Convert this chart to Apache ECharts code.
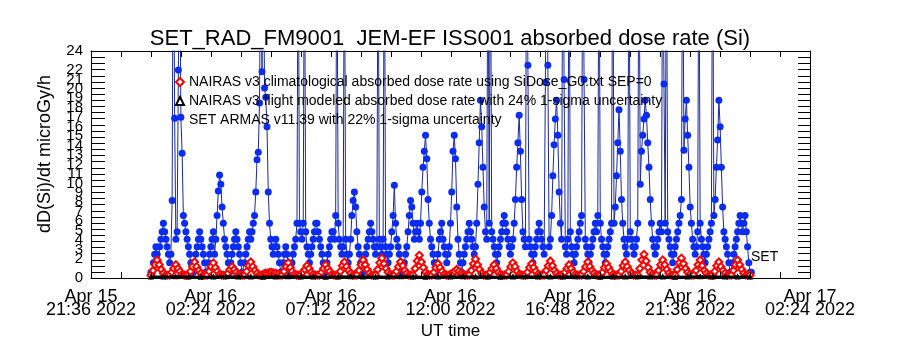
<!DOCTYPE html>
<html>
<head>
<meta charset="utf-8">
<script src="https://cdn.jsdelivr.net/npm/echarts@6/dist/echarts.min.js"></script>
<style>
  html, body { margin: 0; background: #fff; }
  #chart { width: 900px; height: 350px; }
</style>
</head>
<body>
<div id="chart"></div>
<script>
// x axis runs in minutes after Apr 15 2022 21:36 UT
const axisStartUT = Date.UTC(2022, 3, 15, 21, 36)
const axisSpan = 1728
const labelStep = 288
const minorStep = 72
const months = ['Jan', 'Feb', 'Mar', 'Apr', 'May', 'Jun', 'Jul', 'Aug', 'Sep', 'Oct', 'Nov', 'Dec']

const yMax = 24
const yTickLabels = [0, 1, 2, 3, 4, 5, 6, 7, 8, 9, 10, 11, 12, 13, 14, 15, 16, 17, 18, 19, 20, 21, 22, 23, 24]
const yTickMarks = 37 // the frame carries 37 tick steps along the y range

// SET ARMAS, one sample every 3 min from Apr 16 00:00, one row per hour
const armasStart = 144
const armasStep = 3
const armasValues = [
  0.6, 0.6, 1.6, 2.5, 3.3, 2.5, 1.6, 3.3, 4.1, 4.9, 5.8, 4.9, 4.1, 3.3, 2.5, 1.6, 2.5, 8.2, 45, 16.9,
  4.1, 4.9, 22, 40, 17, 13.2, 6.6, 5.8, 4.9, 4.1, 3.3, 2.5, 1.6, 0.6, 0.6, 1.6, 2.5, 3.3, 4.1, 4.9,
  4.1, 3.3, 2.5, 1.6, 0.6, 0.6, 1.6, 2.5, 3.3, 4.1, 4.9, 2.5, 4.1, 6.6, 9.2, 10.9, 9.9, 7.5, 5.8, 4.1,
  3.3, 2.5, 1.6, 0.6, 1.6, 2.5, 3.3, 4.1, 4.9, 4.1, 3.3, 2.5, 1.6, 0.6, 0.6, 1.6, 2.5, 3.3, 4.1, 4.9,
  4.1, 4.9, 5.8, 6.6, 9.1, 12.5, 13.3, 18.5, 40, 21.8, 40, 20.1, 19.1, 16.0, 9.1, 5.8, 4.1, 3.3, 2.5, 3.3,
  4.1, 3.3, 2.5, 1.6, 0.6, 0.6, 1.6, 2.5, 3.3, 2.5, 1.6, 0.6, 0.6, 1.6, 2.5, 3.3, 4.1, 5.8, 40, 5.8,
  4.9, 4.1, 5.8, 40, 4.9, 3.3, 2.5, 1.6, 2.5, 3.3, 4.1, 4.9, 5.8, 5.8, 4.9, 4.1, 3.3, 2.5, 1.6, 0.6,
  0.6, 1.6, 2.5, 3.3, 4.1, 4.9, 4.9, 4.1, 6.6, 40, 5.8, 4.1, 3.3, 2.5, 3.3, 40, 4.1, 2.5, 1.6, 2.5,
  4.1, 6.6, 8.2, 9.1, 7.5, 4.9, 3.3, 2.5, 1.6, 0.6, 0.6, 1.6, 2.5, 3.3, 4.1, 4.9, 5.8, 4.9, 4.1, 3.3,
  2.5, 3.3, 40, 4.1, 3.3, 2.5, 4.1, 40, 3.3, 2.5, 1.6, 2.5, 3.3, 4.9, 6.6, 9.8, 5.8, 4.1, 3.3, 2.5,
  1.6, 0.6, 0.6, 1.6, 2.5, 3.3, 4.9, 6.6, 8.2, 7.5, 5.8, 4.1, 4.9, 5.8, 4.9, 4.1, 5.8, 9.1, 11.7, 13.4,
  15.1, 12.6, 8.3, 5.8, 4.1, 3.3, 2.5, 1.6, 0.6, 1.6, 2.5, 4.1, 4.9, 5.8, 4.1, 3.3, 2.5, 1.6, 2.5, 3.3,
  5.8, 9.1, 13.4, 15.1, 12.6, 7.5, 4.1, 2.5, 1.6, 0.6, 1.6, 2.5, 3.3, 4.1, 4.9, 5.8, 4.9, 4.1, 3.3, 2.5,
  3.3, 5.8, 9.9, 14.3, 18.8, 16.0, 11.7, 7.5, 4.9, 4.1, 40, 5.8, 40, 4.9, 4.1, 3.3, 2.5, 1.6, 2.5, 3.3,
  4.1, 4.9, 5.8, 6.6, 5.8, 4.9, 4.1, 3.3, 2.5, 3.3, 4.1, 5.8, 8.3, 11.7, 14.3, 17.2, 13.4, 8.3, 4.9, 4.1,
  3.3, 40, 22.5, 4.1, 3.3, 2.5, 1.6, 2.5, 3.3, 4.1, 4.9, 5.8, 4.9, 4.1, 3.3, 2.5, 20.7, 40, 22.5, 3.3,
  4.1, 6.6, 10.8, 14.1, 16.8, 18.8, 15.1, 9.1, 5.8, 4.1, 40, 21, 3.3, 2.5, 4.1, 40, 4.9, 3.3, 2.5, 1.6,
  2.5, 3.3, 4.1, 4.9, 5.8, 6.6, 40, 21, 4.1, 3.3, 2.5, 1.6, 2.5, 3.3, 4.1, 4.9, 5.8, 4.9, 6.6, 40,
  5.8, 4.1, 3.3, 2.5, 1.6, 2.5, 3.3, 4.1, 4.9, 5.8, 40, 5.8, 7.5, 10.8, 14.3, 17.8, 13.4, 8.3, 5.8, 4.1,
  3.3, 2.5, 4.1, 40, 4.9, 4.1, 3.3, 2.5, 3.3, 4.1, 5.8, 40, 9.9, 13.4, 15.1, 16.8, 18.8, 17.2, 14.3, 11.7,
  8.3, 5.8, 4.1, 3.3, 2.5, 3.3, 4.1, 4.9, 5.8, 4.9, 40, 20.5, 5.8, 40, 4.9, 4.1, 3.3, 2.5, 1.6, 2.5,
  3.3, 4.1, 4.9, 5.8, 6.6, 8.3, 40, 13.5, 16.8, 18.8, 15.1, 11.7, 7.5, 5.8, 4.1, 3.3, 2.5, 3.3, 4.9, 40,
  5.8, 4.1, 3.3, 2.5, 1.6, 2.5, 3.3, 4.1, 4.9, 5.8, 40, 6.6, 8.3, 11.7, 14.6, 18.8, 16.0, 11.7, 7.5, 4.9,
  4.1, 3.3, 2.5, 1.6, 0.6, 0.6, 1.6, 2.5, 3.3, 4.1, 4.9, 5.8, 6.6, 5.8, 4.9, 5.8, 6.6, 4.9, 3.3, 1.6,
  0.6, 0.6
]

// NAIRAS climatological, one sample every 5 min, one row per 45 min pass
const climStart = 144
const climStep = 5
const climValues = [
  0.3, 0.8, 1.4, 1.9, 1.4, 0.9, 0.5, 0.3, 0.3,
  0.3, 0.6, 1.0, 1.4, 1.0, 0.7, 0.4, 0.3, 0.3,
  0.3, 0.7, 1.2, 1.7, 1.2, 0.8, 0.5, 0.3, 0.3,
  0.3, 0.7, 1.2, 1.6, 1.1, 0.7, 0.4, 0.3, 0.3,
  0.3, 0.5, 0.9, 1.2, 0.9, 0.6, 0.4, 0.3, 0.3,
  0.3, 0.7, 1.3, 1.7, 1.2, 0.8, 0.5, 0.3, 0.3,
  0.4, 0.5, 0.5, 0.6, 0.6, 0.5, 0.5, 0.4, 0.3,
  0.3, 0.7, 1.2, 1.6, 1.1, 0.7, 0.4, 0.3, 0.3,
  0.3, 0.6, 0.9, 1.3, 1.0, 0.6, 0.4, 0.3, 0.3,
  0.3, 0.6, 1.0, 1.4, 1.0, 0.7, 0.4, 0.3, 0.3,
  0.3, 0.7, 1.3, 1.7, 1.2, 0.8, 0.5, 0.3, 0.3,
  0.3, 0.8, 1.4, 1.9, 1.4, 0.9, 0.5, 0.3, 0.3,
  0.3, 0.9, 1.6, 2.1, 1.5, 1.0, 0.6, 0.4, 0.3,
  0.3, 0.7, 1.2, 1.7, 1.3, 0.8, 0.5, 0.3, 0.3,
  0.3, 1.0, 1.8, 2.4, 1.7, 1.1, 0.6, 0.4, 0.3,
  0.3, 0.6, 1.1, 1.5, 1.1, 0.7, 0.4, 0.3, 0.3,
  0.4, 0.5, 0.7, 0.9, 0.7, 0.5, 0.4, 0.3, 0.3,
  0.3, 0.8, 1.5, 2.0, 1.4, 0.9, 0.5, 0.3, 0.3,
  0.3, 0.6, 1.0, 1.4, 1.0, 0.6, 0.4, 0.3, 0.3,
  0.3, 0.7, 1.2, 1.6, 1.2, 0.7, 0.4, 0.3, 0.3,
  0.3, 0.6, 1.1, 1.5, 1.1, 0.7, 0.4, 0.3, 0.3,
  0.3, 0.8, 1.3, 1.8, 1.3, 0.8, 0.5, 0.3, 0.3,
  0.3, 0.6, 1.0, 1.4, 1.0, 0.6, 0.4, 0.3, 0.3,
  0.3, 0.7, 1.2, 1.7, 1.2, 0.8, 0.5, 0.3, 0.3,
  0.3, 0.6, 1.1, 1.5, 1.1, 0.7, 0.4, 0.3, 0.3,
  0.3, 0.7, 1.3, 1.7, 1.2, 0.8, 0.5, 0.3, 0.3,
  0.3, 1.0, 1.9, 2.5, 1.8, 1.1, 0.6, 0.4, 0.3,
  0.3, 0.8, 1.4, 1.9, 1.4, 0.9, 0.5, 0.3, 0.3,
  0.3, 0.9, 1.6, 2.1, 1.5, 1.0, 0.6, 0.4, 0.3,
  0.3, 0.8, 1.4, 1.9, 1.3, 0.8, 0.5, 0.3, 0.3,
  0.3, 0.7, 1.3, 1.7, 1.2, 0.8, 0.5, 0.3, 0.3,
  0.3, 0.8, 1.4, 1.9, 1.4, 0.9, 0.5, 0.3, 0.3,
  0.3
]

// NAIRAS flight modeled, one sample every 30 min
const flightStart = 144
const flightStep = 30
const flightValues = [
  0.1, 0.1, 0.12, 0.1, 0.08, 0.1, 0.12, 0.1, 0.1, 0.08, 0.1, 0.12, 0.1,
  0.1, 0.08, 0.1, 0.12, 0.1, 0.1, 0.1, 0.12, 0.1, 0.08, 0.1, 0.1,
  0.12, 0.1, 0.1, 0.08, 0.1, 0.12, 0.1, 0.1, 0.1, 0.12, 0.1, 0.08,
  0.1, 0.1, 0.12, 0.1, 0.1, 0.08, 0.1, 0.12, 0.1, 0.1, 0.1, 0.1
]

const climName = 'NAIRAS v3 climatological absorbed dose rate using SiDose_G0.txt SEP=0'
const flightName = 'NAIRAS v3 flight modeled absorbed dose rate with 24% 1-sigma uncertainty'
const armasName = 'SET ARMAS v11.39 with 22% 1-sigma uncertainty'

const font = 'Liberation Sans'

function pairs (start, step, values) {
  return values.map((v, i) => [start + i * step, v])
}

function pad2 (n) {
  return n < 10 ? '0' + n : '' + n
}

function timeLabel (m) {
  if (m % labelStep !== 0) return ''
  const d = new Date(axisStartUT + m * 60000)
  return months[d.getUTCMonth()] + ' ' + d.getUTCDate() + '\n' +
    pad2(d.getUTCHours()) + ':' + pad2(d.getUTCMinutes()) + ' ' + d.getUTCFullYear()
}

const frameLine = { show: true, onZero: false, lineStyle: { color: '#000', width: 1 } }

const baseGraphic = [
  {
    type: 'text',
    x: 45,
    y: 154,
    rotation: Math.PI / 2,
    style: {
      text: 'dD(Si)/dt microGy/h',
      fontFamily: font,
      fontSize: 18,
      fill: '#000',
      align: 'center',
      verticalAlign: 'middle'
    }
  },
  {
    type: 'text',
    left: 751,
    top: 250,
    style: { text: 'SET', fontFamily: font, fontSize: 14, fill: '#000' }
  }
]

const chart = echarts.init(document.getElementById('chart'))
chart.setOption({
  animation: false,
  backgroundColor: '#fff',
  title: {
    text: 'SET_RAD_FM9001  JEM-EF ISS001 absorbed dose rate (Si)',
    left: 'center',
    top: 23,
    textStyle: { fontFamily: font, fontSize: 22, fontWeight: 'normal', color: '#000' }
  },
  legend: {
    left: 170,
    top: 70,
    orient: 'vertical',
    itemGap: 5,
    itemWidth: 8,
    itemHeight: 8,
    selectedMode: false,
    textStyle: { fontFamily: font, fontSize: 14, lineHeight: 14, color: '#000' },
    data: [
      { name: climName, icon: 'emptyDiamond' },
      { name: flightName, icon: 'emptyTriangle' },
      { name: armasName, icon: 'none' }
    ]
  },
  grid: { left: 91, right: 90, top: 51, bottom: 72 },
  xAxis: [
    {
      type: 'value',
      min: 0,
      max: axisSpan,
      interval: minorStep,
      name: 'UT time',
      nameLocation: 'middle',
      nameGap: 45,
      nameMoveOverlap: false,
      nameTextStyle: { fontFamily: font, fontSize: 17, color: '#000' },
      axisLine: frameLine,
      axisTick: { show: false },
      axisLabel: {
        formatter: timeLabel,
        showMinLabel: true,
        showMaxLabel: true,
        margin: 13,
        lineHeight: 13,
        fontFamily: font,
        fontSize: 18,
        color: '#000'
      },
      splitLine: { show: false }
    },
    {
      type: 'value',
      position: 'top',
      min: 0,
      max: axisSpan,
      axisLine: frameLine,
      axisTick: { show: false },
      axisLabel: { show: false },
      splitLine: { show: false }
    }
  ],
  yAxis: [
    {
      type: 'value',
      min: 0,
      max: yMax,
      interval: 1,
      axisLine: frameLine,
      axisTick: { show: false },
      axisLabel: {
        margin: 8,
        showMinLabel: true,
        showMaxLabel: true,
        hideOverlap: false,
        lineHeight: 9,
        fontFamily: font,
        fontSize: 15,
        color: '#000',
        formatter: v => (yTickLabels.indexOf(v) >= 0 ? String(v) : '')
      },
      splitLine: { show: false }
    },
    {
      type: 'value',
      position: 'right',
      min: 0,
      max: yMax,
      axisLine: frameLine,
      axisTick: { show: false },
      axisLabel: { show: false },
      splitLine: { show: false }
    }
  ],
  graphic: baseGraphic,
  series: [
    {
      name: armasName,
      type: 'line',
      data: pairs(armasStart, armasStep, armasValues),
      symbol: 'circle',
      symbolSize: 7,
      showAllSymbol: true,
      itemStyle: { color: '#0a2cf5' },
      lineStyle: { color: '#1a2a9c', width: 1 },
      z: 2
    },
    {
      name: climName,
      type: 'line',
      data: pairs(climStart, climStep, climValues),
      symbol: 'emptyDiamond',
      symbolSize: 7,
      showAllSymbol: true,
      itemStyle: { color: '#ff0000', borderWidth: 1 },
      lineStyle: { color: '#ff0000', width: 1 },
      z: 3
    },
    {
      name: flightName,
      type: 'line',
      data: pairs(flightStart, flightStep, flightValues),
      symbol: 'emptyTriangle',
      symbolSize: 3,
      showAllSymbol: true,
      itemStyle: { color: '#000' },
      lineStyle: { color: '#000', width: 3 },
      z: 4
    }
  ]
})

// IDL style frame ticks, placed through the axes once they are laid out
const toPx = v => chart.convertToPixel({ gridIndex: 0 }, v)
const corner0 = toPx([0, 0])
const corner1 = toPx([axisSpan, yMax])
const ticks = []
function tick (x1, y1, x2, y2) {
  ticks.push({
    type: 'line',
    silent: true,
    z: 50,
    shape: { x1: x1, y1: y1, x2: x2, y2: y2 },
    style: { stroke: '#000', lineWidth: 1 }
  })
}
for (let m = 0; m <= axisSpan; m += minorStep) {
  const x = Math.round(toPx([m, 0])[0]) + 0.5
  tick(x, corner0[1], x, corner0[1] - 6)
  tick(x, corner1[1], x, corner1[1] + 6)
}
for (let k = 0; k <= yTickMarks; k++) {
  const y = Math.round(toPx([0, k * yMax / yTickMarks])[1]) + 0.5
  tick(corner0[0], y, corner0[0] + 14, y)
  tick(corner1[0] - 12, y, corner1[0], y)
}
chart.setOption({ graphic: baseGraphic.concat(ticks) })
</script>
</body>
</html>
